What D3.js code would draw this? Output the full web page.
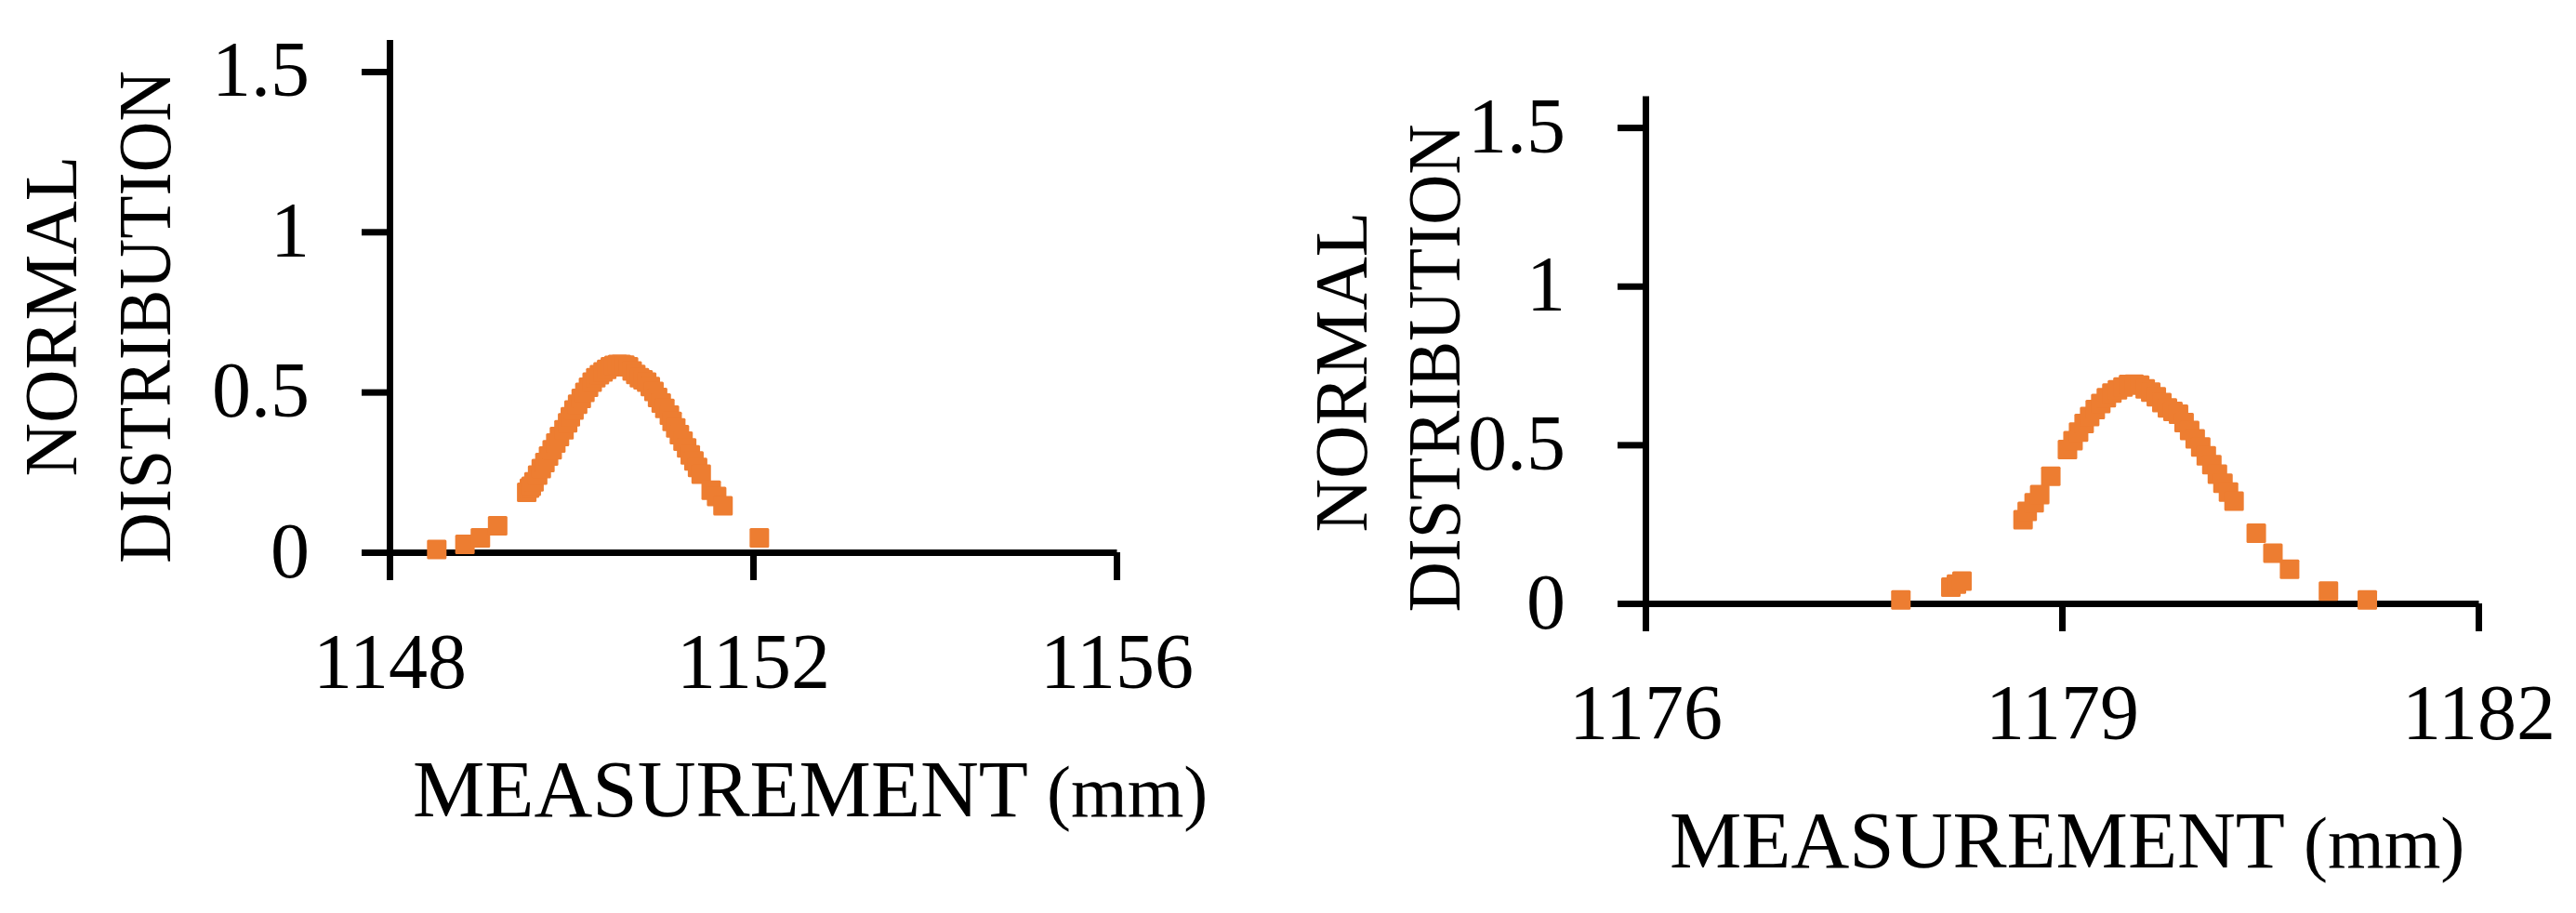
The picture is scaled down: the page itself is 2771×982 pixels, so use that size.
<!DOCTYPE html>
<html>
<head>
<meta charset="utf-8">
<script src="https://cdn.jsdelivr.net/npm/d3@7"></script>
<style>
  html, body { margin: 0; padding: 0; background: #ffffff; }
  svg { display: block; }
  text { font-family: "Liberation Serif", "Times New Roman", serif; fill: #000; }
</style>
</head>
<body>
<svg id="chart" width="2771" height="982"></svg>
<script>
// ---------- DATA ----------
const yTicks = [0, 0.5, 1, 1.5];
const yTickLabels = ["0", "0.5", "1", "1.5"];
const yTitleLines = ["NORMAL", "DISTRIBUTION"];
const xTitleMain = "MEASUREMENT";
const xTitleUnit = "(mm)";

// Left chart
const leftXTicks = [1148, 1152, 1156];
const leftXTickLabels = ["1148", "1152", "1156"];
const leftX = [
  1148.52, 1148.83, 1149.00, 1149.19,
  1149.51, 1149.54, 1149.56, 1149.59, 1149.63, 1149.67, 1149.71, 1149.75, 1149.79, 1149.83,
  1149.87, 1149.92, 1149.96, 1149.99, 1150.03, 1150.07, 1150.11, 1150.15, 1150.19, 1150.23,
  1150.27, 1150.31, 1150.35, 1150.39, 1150.43, 1150.47, 1150.51, 1150.55, 1150.59, 1150.63,
  1150.67, 1150.71, 1150.75, 1150.79, 1150.83, 1150.87, 1150.91, 1150.95, 1150.99, 1151.03,
  1151.08, 1151.11, 1151.15, 1151.19, 1151.23, 1151.27, 1151.31, 1151.35, 1151.39, 1151.43,
  1151.54, 1151.60, 1151.67,
  1152.07
];
const leftY = [
  0.009, 0.025, 0.045, 0.083,
  0.187, 0.200, 0.206, 0.220, 0.241, 0.261, 0.280, 0.300, 0.320, 0.341,
  0.361, 0.382, 0.404, 0.423, 0.444, 0.462, 0.480, 0.499, 0.515, 0.531,
  0.545, 0.554, 0.563, 0.571, 0.579, 0.583, 0.586, 0.586, 0.584, 0.579,
  0.566, 0.555, 0.545, 0.538, 0.531, 0.517, 0.502, 0.483, 0.466, 0.449,
  0.428, 0.408, 0.388, 0.367, 0.347, 0.326, 0.304, 0.285, 0.265, 0.244,
  0.194, 0.174, 0.145,
  0.045
];

// Right chart
const rightXTicks = [1176, 1179, 1182];
const rightXTickLabels = ["1176", "1179", "1182"];
const rightX = [
  1177.84, 1178.20, 1178.24, 1178.28,
  1178.72, 1178.75, 1178.80, 1178.84, 1178.92,
  1179.04, 1179.08, 1179.12, 1179.16, 1179.20, 1179.24, 1179.28, 1179.32, 1179.36, 1179.40,
  1179.44, 1179.48, 1179.52, 1179.56, 1179.60, 1179.64, 1179.68, 1179.72, 1179.76, 1179.80,
  1179.84, 1179.88, 1179.92, 1179.96, 1180.00, 1180.04, 1180.08, 1180.12, 1180.16, 1180.20,
  1180.24,
  1180.40, 1180.52, 1180.64, 1180.92, 1181.20
];
const rightY = [
  0.011, 0.051, 0.061, 0.070,
  0.264, 0.290, 0.317, 0.343, 0.401,
  0.485, 0.513, 0.540, 0.567, 0.589, 0.611, 0.630, 0.648, 0.663, 0.673,
  0.682, 0.690, 0.691, 0.688, 0.676, 0.666, 0.651, 0.633, 0.616, 0.605,
  0.596, 0.570, 0.545, 0.519, 0.493, 0.465, 0.437, 0.407, 0.379, 0.351,
  0.322,
  0.221, 0.158, 0.108, 0.039, 0.011
];

// ---------- DRAWING ----------
const svg = d3.select("#chart");
const ORANGE = "#ED7D31";

function drawPanel(o) {
  const g = svg.append("g");
  const x = d3.scaleLinear().domain(o.xDomain).range([o.x0, o.x1]);
  const y = d3.scaleLinear().domain([0, 1.6]).range([o.y0, o.yTop]);

  // x axis
  const xa = g.append("g")
    .attr("transform", `translate(0,${o.y0})`)
    .call(d3.axisBottom(x).tickValues(o.xTicks)
      .tickFormat((d, i) => o.xTickLabels[i]).tickSize(30).tickSizeOuter(0));
  // y axis
  const ya = g.append("g")
    .attr("transform", `translate(${o.x0},0)`)
    .call(d3.axisLeft(y).tickValues(yTicks)
      .tickFormat((d, i) => yTickLabels[i]).tickSize(30).tickSizeOuter(0).tickPadding(56));

  [xa, ya].forEach(a => {
    a.select(".domain").attr("stroke", "#000").attr("stroke-width", 7).attr("fill", "none");
    a.selectAll(".tick line").attr("stroke", "#000").attr("stroke-width", 7);
    a.selectAll(".tick text").attr("font-size", 84)
      .attr("font-family", '"Liberation Serif", "Times New Roman", serif').attr("fill", "#000");
  });
  xa.selectAll(".tick text").attr("y", 146).attr("dy", 0);
  ya.selectAll(".tick text").attr("dy", 26);

  // points
  const pts = o.xs.map((v, i) => ({ x: v, y: o.ys[i] }));
  g.append("g").selectAll("rect").data(pts).join("rect")
    .attr("x", d => x(d.x) - 10.5)
    .attr("y", d => y(d.y) - 10.5)
    .attr("width", 21).attr("height", 21)
    .attr("rx", 1.5)
    .attr("fill", ORANGE);

  // y title (two rotated lines)
  yTitleLines.forEach((t, i) => {
    g.append("text")
      .attr("transform", `translate(${o.yTitleX[i]},${o.yTitleCy[i]}) rotate(-90)`)
      .attr("text-anchor", "middle")
      .attr("font-size", 80)
      .attr("textLength", o.yTitleLen[i])
      .attr("lengthAdjust", "spacingAndGlyphs")
      .text(t);
  });

  // x title
  const xt = g.append("text")
    .attr("x", o.xTitleX).attr("y", o.xTitleY)
    .attr("font-size", 87);
  xt.append("tspan").attr("textLength", 662).attr("lengthAdjust", "spacingAndGlyphs").text(xTitleMain);
  xt.append("tspan").attr("font-size", 78).attr("dx", 20).text(xTitleUnit);
}

drawPanel({
  xDomain: [1148, 1156], x0: 419, x1: 1201, y0: 594, yTop: 42.5,
  xTicks: leftXTicks, xTickLabels: leftXTickLabels,
  xs: leftX, ys: leftY,
  yTitleX: [82, 183], yTitleCy: [340, 341], yTitleLen: [345, 530],
  xTitleX: 444, xTitleY: 878
});

drawPanel({
  xDomain: [1176, 1182], x0: 1770, x1: 2666, y0: 649, yTop: 103,
  xTicks: rightXTicks, xTickLabels: rightXTickLabels,
  xs: rightX, ys: rightY,
  yTitleX: [1470, 1570], yTitleCy: [400, 396], yTitleLen: [345, 525],
  xTitleX: 1796, xTitleY: 933
});
</script>
</body>
</html>
